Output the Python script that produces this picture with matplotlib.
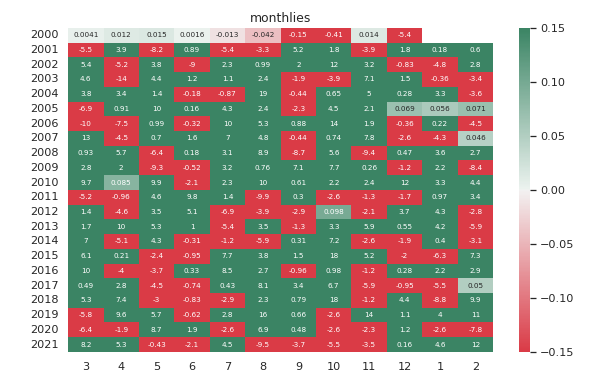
import matplotlib

matplotlib.use("Agg")
import matplotlib.pyplot as plt
import numpy as np
import pandas as pd
import seaborn as sns

years = list(range(2000, 2022))
months = [3, 4, 5, 6, 7, 8, 9, 10, 11, 12, 1, 2]

returns = [
    [0.0041, 0.012, 0.015, 0.0016, -0.013, -0.042, -0.15, -0.41, 0.014, -5.4, np.nan, np.nan],
    [-5.5, 3.9, -8.2, 0.89, -5.4, -3.3, 5.2, 1.8, -3.9, 1.8, 0.18, 0.6],
    [5.4, -5.2, 3.8, -9, 2.3, 0.99, 2, 12, 3.2, -0.83, -4.8, 2.8],
    [4.6, -14, 4.4, 1.2, 1.1, 2.4, -1.9, -3.9, 7.1, 1.5, -0.36, -3.4],
    [3.8, 3.4, 1.4, -0.18, -0.87, 19, -0.44, 0.65, 5, 0.28, 3.3, -3.6],
    [-6.9, 0.91, 10, 0.16, 4.3, 2.4, -2.3, 4.5, 2.1, 0.069, 0.056, 0.071],
    [-10, -7.5, 0.99, -0.32, 10, 5.3, 0.88, 14, 1.9, -0.36, 0.22, -4.5],
    [13, -4.5, 0.7, 1.6, 7, 4.8, -0.44, 0.74, 7.8, -2.6, -4.3, 0.046],
    [0.93, 5.7, -6.4, 0.18, 3.1, 8.9, -8.7, 5.6, -9.4, 0.47, 3.6, 2.7],
    [2.8, 2, -9.3, -0.52, 3.2, 0.76, 7.1, 7.7, 0.26, -1.2, 2.2, -8.4],
    [9.7, 0.085, 9.9, -2.1, 2.3, 10, 0.61, 2.2, 2.4, 12, 3.3, 4.4],
    [-5.2, -0.96, 4.6, 9.8, 1.4, -9.9, 0.3, -2.6, -1.3, -1.7, 0.97, 3.4],
    [1.4, -4.6, 3.5, 5.1, -6.9, -3.9, -2.9, 0.098, -2.1, 3.7, 4.3, -2.8],
    [1.7, 10, 5.3, 1, -5.4, 3.5, -1.3, 3.3, 5.9, 0.55, 4.2, -5.9],
    [7, -5.1, 4.3, -0.31, -1.2, -5.9, 0.31, 7.2, -2.6, -1.9, 0.4, -3.1],
    [6.1, 0.21, -2.4, -0.95, 7.7, 3.8, 1.5, 18, 5.2, -2, -6.3, 7.3],
    [10, -4, -3.7, 0.33, 8.5, 2.7, -0.96, 0.98, -1.2, 0.28, 2.2, 2.9],
    [0.49, 2.8, -4.5, -0.74, 0.43, 8.1, 3.4, 6.7, -5.9, -0.95, -5.5, 0.05],
    [5.3, 7.4, -3, -0.83, -2.9, 2.3, 0.79, 18, -1.2, 4.4, -8.8, 9.9],
    [-5.8, 9.6, 5.7, -0.62, 2.8, 16, 0.66, -2.6, 14, 1.1, 4, 11],
    [-6.4, -1.9, 8.7, 1.9, -2.6, 6.9, 0.48, -2.6, -2.3, 1.2, -2.6, -7.8],
    [8.2, 5.3, -0.43, -2.1, 4.5, -9.5, -3.7, -5.5, -3.5, 0.16, 4.6, 12],
]

df = pd.DataFrame(returns, index=years, columns=months)

sns.set_theme(style="white")
cmap = sns.diverging_palette(10, 150, as_cmap=True)

fig = plt.figure(figsize=(8, 372 / 74), dpi=74)
ax = fig.add_axes([0.115, 0.054, 0.718, 0.871])
cax = fig.add_axes([0.877, 0.054, 0.019, 0.871])

sns.heatmap(
    df,
    ax=ax,
    cbar_ax=cax,
    cmap=cmap,
    vmin=-0.15,
    vmax=0.15,
    center=0,
    annot=True,
    fmt=".2g",
    annot_kws={"size": 7},
)
ax.set_title("monthlies", fontsize=12)
ax.tick_params(axis="y", rotation=0)
ax.tick_params(axis="x", rotation=0)

fig.savefig("out.png", dpi=74)
